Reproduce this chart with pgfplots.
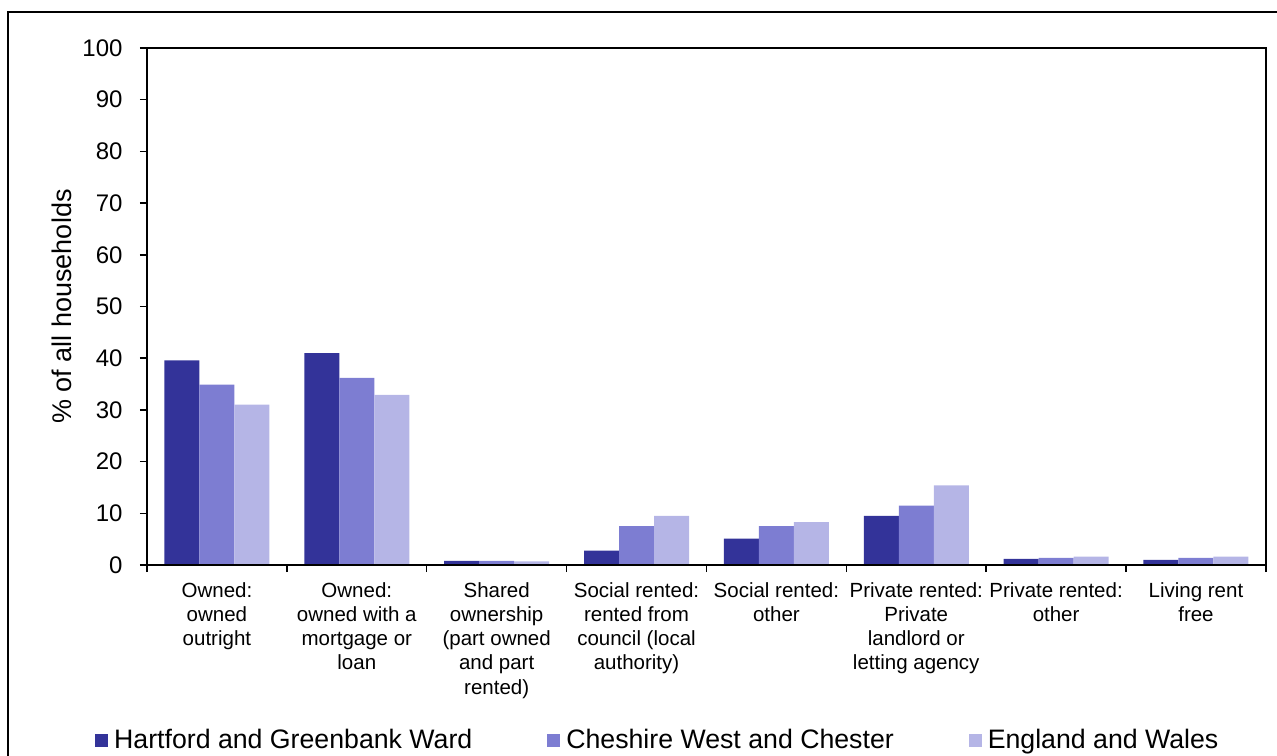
\documentclass[border=0pt]{standalone}
\usepackage{fontspec}
\setmainfont{Liberation Sans}
\usepackage{pgfplots}
\pgfplotsset{compat=1.18}
\definecolor{cA}{HTML}{333399}
\definecolor{cB}{HTML}{7D7DD2}
\definecolor{cC}{HTML}{B5B5E6}
\pgfplotsset{sqlegend/.style={legend image code/.code={\fill[##1] (0pt,-6.5pt) rectangle (13pt,6.5pt);}}}
\begin{document}
\begin{tikzpicture}[x=1pt,y=1pt]
\useasboundingbox (0,0) rectangle (1277,755);
\draw[line width=2.5pt] (8,-10) -- (8,743) -- (1290,743);
\begin{axis}[
    at={(147pt,190pt)}, anchor=south west,
    scale only axis, width=1119pt, height=517pt,
    ybar=0pt, bar width=35pt,
    xmin=-0.5, xmax=7.5, ymin=0, ymax=100,
    ytick={0,10,...,100},
    xtick={-0.5,0.5,...,7.5},
    xticklabels={},
    extra x ticks={0,1,2,3,4,5,6,7},
    extra x tick labels={
        {Owned:\\owned\\outright},
        {Owned:\\owned with a\\mortgage or\\loan},
        {Shared\\ownership\\(part owned\\and part\\rented)},
        {Social rented:\\rented from\\council (local\\authority)},
        {Social rented:\\other},
        {Private rented:\\Private\\landlord or\\letting agency},
        {Private rented:\\other},
        {Living rent\\free}},
    extra x tick style={major tick length=0pt,
        tick label style={align=center, font=\fontsize{20.5}{24.2}\selectfont, yshift=-14pt}},
    xtick pos=left, ytick pos=left,
    tick align=outside,
    major tick length=7pt,
    tick style={line width=1.5pt, black},
    axis line style={line width=1.2pt},
    /pgf/number format/assume math mode=true,
    yticklabel style={font=\fontsize{24}{28}\selectfont, xshift=-14pt},
    ylabel={\% of all households},
    every axis y label/.style={at={(axis description cs:-0.076,0.5)}, rotate=90, anchor=center,
        font=\fontsize{27}{32}\selectfont},
    legend style={at={(axis description cs:-0.0465,-0.3385)}, anchor=west,
        draw=none, fill=none, inner sep=0pt, legend columns=3,
        font=\fontsize{26.7}{32}\selectfont,
        nodes={inner sep=3pt},
        /tikz/every odd column/.append style={column sep=3pt},
        /tikz/every even column/.append style={column sep=72pt}},
    after end axis/.code={\draw[line width=2.5pt] (rel axis cs:0,1) -- (rel axis cs:0,0) -- (rel axis cs:1,0);},
]
\addplot[fill=cA, draw=none, sqlegend] coordinates {
    (0,39.6) (1,41.0) (2,0.8) (3,2.8) (4,5.1) (5,9.5) (6,1.2) (7,1.0)
};
\addplot[fill=cB, draw=none, sqlegend] coordinates {
    (0,34.9) (1,36.2) (2,0.8) (3,7.5) (4,7.5) (5,11.5) (6,1.4) (7,1.4)
};
\addplot[fill=cC, draw=none, sqlegend] coordinates {
    (0,31.0) (1,32.9) (2,0.7) (3,9.5) (4,8.3) (5,15.4) (6,1.6) (7,1.6)
};
\legend{Hartford and Greenbank Ward, Cheshire West and Chester, England and Wales}
\end{axis}
\end{tikzpicture}
\end{document}
